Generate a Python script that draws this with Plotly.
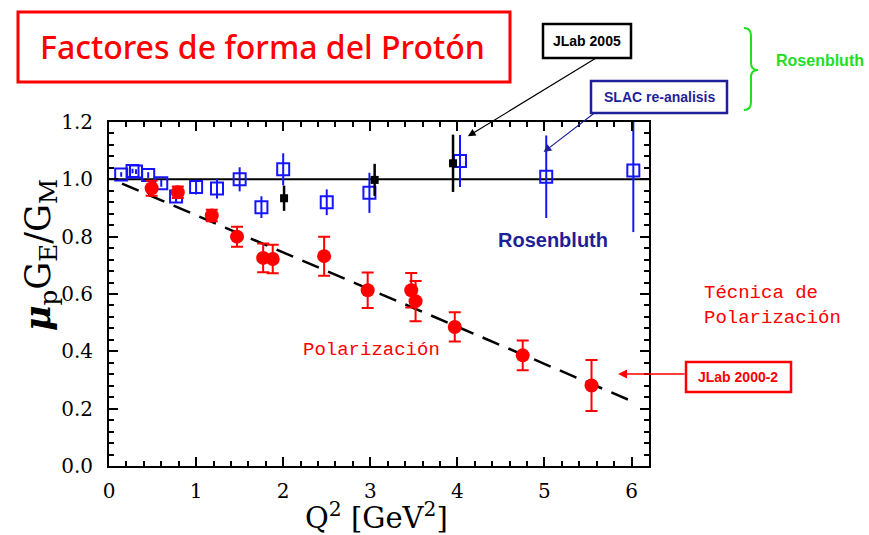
import plotly.graph_objects as go

# ---- data -------------------------------------------------------------
# Polarization transfer (JLab 2000-2)
pol_q2 = [0.49, 0.79, 1.18, 1.47, 1.77, 1.88, 2.47, 2.97, 3.47, 3.52, 3.97, 4.75, 5.54]
pol_ratio = [0.969, 0.955, 0.874, 0.800, 0.726, 0.722, 0.732, 0.613, 0.613, 0.575, 0.485, 0.386, 0.281]
pol_err = [0.026, 0.020, 0.020, 0.035, 0.050, 0.050, 0.068, 0.062, 0.060, 0.070, 0.051, 0.052, 0.089]

# SLAC Rosenbluth re-analysis
slac_q2 = [0.14, 0.27, 0.31, 0.45, 0.60, 0.77, 1.00, 1.24, 1.50, 1.75, 2.00, 2.50, 2.99, 4.03, 5.02, 6.02]
slac_ratio = [1.017, 1.029, 1.027, 1.015, 0.986, 0.940, 0.973, 0.968, 1.000, 0.903, 1.035, 0.920, 0.953, 1.064, 1.009, 1.031]
slac_err = [0.008, 0.008, 0.008, 0.010, 0.012, 0.020, 0.026, 0.035, 0.042, 0.038, 0.056, 0.045, 0.070, 0.091, 0.144, 0.215]

# JLab 2005 Rosenbluth
jlab05_q2 = [2.01, 3.05, 3.95]
jlab05_ratio = [0.934, 0.998, 1.056]
jlab05_err = [0.044, 0.056, 0.100]

# linear fit to the polarization data (end points)
fit_q2 = [0.15, 6.05]
fit_ratio = [0.985, 0.220]

# unit ratio reference
unity_q2 = [0.0, 6.2]
unity_ratio = [1.0, 1.0]

x_ticks = [0, 1, 2, 3, 4, 5, 6]
y_ticks = [0.0, 0.2, 0.4, 0.6, 0.8, 1.0, 1.2]

# ---- layout geometry (pixels) -----------------------------------------
W, H = 869, 535
L, R, T, B = 109, 220, 122, 69
PW, PH = W - L - R, H - T - B


def px(x):
    return (x - L) / PW


def py(y):
    return (H - B - y) / PH


RED = "#ff0000"
BLUE = "#1414ff"
NAVY = "#1f1f99"
GREEN = "#22dd22"
SERIF = "DejaVu Serif"
SANS = "Liberation Sans, Arial, sans-serif"
MONO = "Liberation Mono, Courier New, monospace"

fig = go.Figure()

fig.add_trace(go.Scatter(x=unity_q2, y=unity_ratio, mode="lines",
                         line=dict(color="black", width=2), hoverinfo="skip"))
fig.add_trace(go.Scatter(x=fit_q2, y=fit_ratio, mode="lines",
                         line=dict(color="black", width=2.5, dash="18px,10px"), hoverinfo="skip"))

fig.add_trace(go.Scatter(
    x=slac_q2, y=slac_ratio, mode="markers", name="SLAC",
    marker=dict(symbol="square-open", size=12, color=BLUE, line=dict(width=2, color=BLUE)),
    error_y=dict(type="data", array=slac_err, color=BLUE, thickness=2, width=0)))

fig.add_trace(go.Scatter(
    x=jlab05_q2, y=jlab05_ratio, mode="markers", name="JLab 2005",
    marker=dict(symbol="square", size=8, color="black"),
    error_y=dict(type="data", array=jlab05_err, color="black", thickness=2.5, width=0)))

fig.add_trace(go.Scatter(
    x=pol_q2, y=pol_ratio, mode="markers", name="JLab 2000-2",
    marker=dict(symbol="circle", size=14, color=RED),
    error_y=dict(type="data", array=pol_err, color=RED, thickness=2, width=6)))

axis_common = dict(
    showline=True, linecolor="black", linewidth=2, mirror="allticks",
    ticks="inside", ticklen=9, tickwidth=2, tickcolor="black",
    showgrid=False, zeroline=False,
    tickfont=dict(family=SERIF, size=20, color="black"),
)

fig.update_xaxes(range=[0, 6.2], tickvals=x_ticks, ticklabelstandoff=6,
                 minor=dict(dtick=0.2, ticks="inside", ticklen=5, tickwidth=2, tickcolor="black"),
                 **axis_common)
fig.update_yaxes(range=[0, 1.2], tickvals=y_ticks, tickformat=".1f", ticklabelstandoff=10,
                 minor=dict(dtick=0.04, ticks="inside", ticklen=5, tickwidth=2, tickcolor="black"),
                 **axis_common)

shapes = [
    # title frame
    dict(type="rect", xref="paper", yref="paper", x0=px(18), x1=px(510), y0=py(12), y1=py(82),
         line=dict(color=RED, width=3)),
    # JLab 2005 label frame
    dict(type="rect", xref="paper", yref="paper", x0=px(543), x1=px(631), y0=py(24), y1=py(58),
         line=dict(color="black", width=2.5)),
    # SLAC label frame
    dict(type="rect", xref="paper", yref="paper", x0=px(591), x1=px(727), y0=py(81), y1=py(113),
         line=dict(color=NAVY, width=2.5)),
    # JLab 2000-2 label frame
    dict(type="rect", xref="paper", yref="paper", x0=px(686), x1=px(791), y0=py(362), y1=py(392),
         line=dict(color=RED, width=2.5)),
]

# curly brace grouping the Rosenbluth labels
bx0, bx1, bxm = 744, 751, 758
by0, bym, by1 = 28, 70, 110
brace = (
    f"M {px(bx0)},{py(by0)} Q {px(bx1)},{py(by0)} {px(bx1)},{py(by0 + 8)} "
    f"L {px(bx1)},{py(bym - 7)} Q {px(bx1)},{py(bym)} {px(bxm)},{py(bym)} "
    f"Q {px(bx1)},{py(bym)} {px(bx1)},{py(bym + 7)} "
    f"L {px(bx1)},{py(by1 - 8)} Q {px(bx1)},{py(by1)} {px(bx0)},{py(by1)}"
)
shapes.append(dict(type="path", xref="paper", yref="paper", path=brace,
                   line=dict(color=GREEN, width=2)))


def label(xp, yp, text, font, **kw):
    d = dict(x=px(xp), y=py(yp), xref="paper", yref="paper", showarrow=False,
             xanchor="center", yanchor="middle", text=text, font=font)
    d.update(kw)
    return d


annotations = [
    label(262, 46, "Factores de forma del Protón",
          dict(family="Noto Sans, sans-serif", size=32, color=RED, weight=500)),
    label(587, 41, "<b>JLab 2005</b>", dict(family=SANS, size=14, color="black")),
    label(659, 97, "<b>SLAC re-analisis</b>", dict(family=SANS, size=14, color=NAVY)),
    label(738, 377, "<b>JLab 2000-2</b>", dict(family=SANS, size=14, color=RED)),
    label(820, 61, "<b>Rosenbluth</b>", dict(family=SANS, size=16, color=GREEN)),
    label(702, 305, "Técnica de<br>Polarización", dict(family=MONO, size=19, color=RED),
          xanchor="left", align="left"),
    # axis titles
    label(376, 516, "Q<sup>2</sup> [GeV<sup>2</sup>]", dict(family=SERIF, size=29, color="black")),
    label(40, 255, "<b><i>μ</i></b><sub>p</sub>G<sub>E</sub>/G<sub>M</sub>",
          dict(family=SERIF, size=35, color="black"), textangle=-90),
    # labels inside the plot
    dict(x=5.10, y=0.788, xref="x", yref="y", showarrow=False, xanchor="center", yanchor="middle",
         text="<b>Rosenbluth</b>", font=dict(family=SANS, size=20, color=NAVY)),
    dict(x=3.01, y=0.405, xref="x", yref="y", showarrow=False, xanchor="center", yanchor="middle",
         text="Polarización", font=dict(family=MONO, size=19, color=RED)),
    # pointer arrows
    dict(x=4.12, y=1.15, xref="x", yref="y", text="", showarrow=True, ax=131, ay=-80,
         arrowhead=2, arrowsize=1.3, arrowwidth=1.2, arrowcolor="black"),
    dict(x=4.99, y=1.095, xref="x", yref="y", text="", showarrow=True, ax=52, ay=-40,
         arrowhead=2, arrowsize=1.3, arrowwidth=1.2, arrowcolor=NAVY),
    dict(x=5.845, y=0.321, xref="x", yref="y", text="", showarrow=True, ax=68, ay=0,
         arrowhead=2, arrowsize=1.2, arrowwidth=1.5, arrowcolor=RED),
]

fig.update_layout(
    width=W, height=H, margin=dict(l=L, r=R, t=T, b=B),
    paper_bgcolor="white", plot_bgcolor="white",
    showlegend=False, shapes=shapes, annotations=annotations,
)

fig.write_html("out.html")
